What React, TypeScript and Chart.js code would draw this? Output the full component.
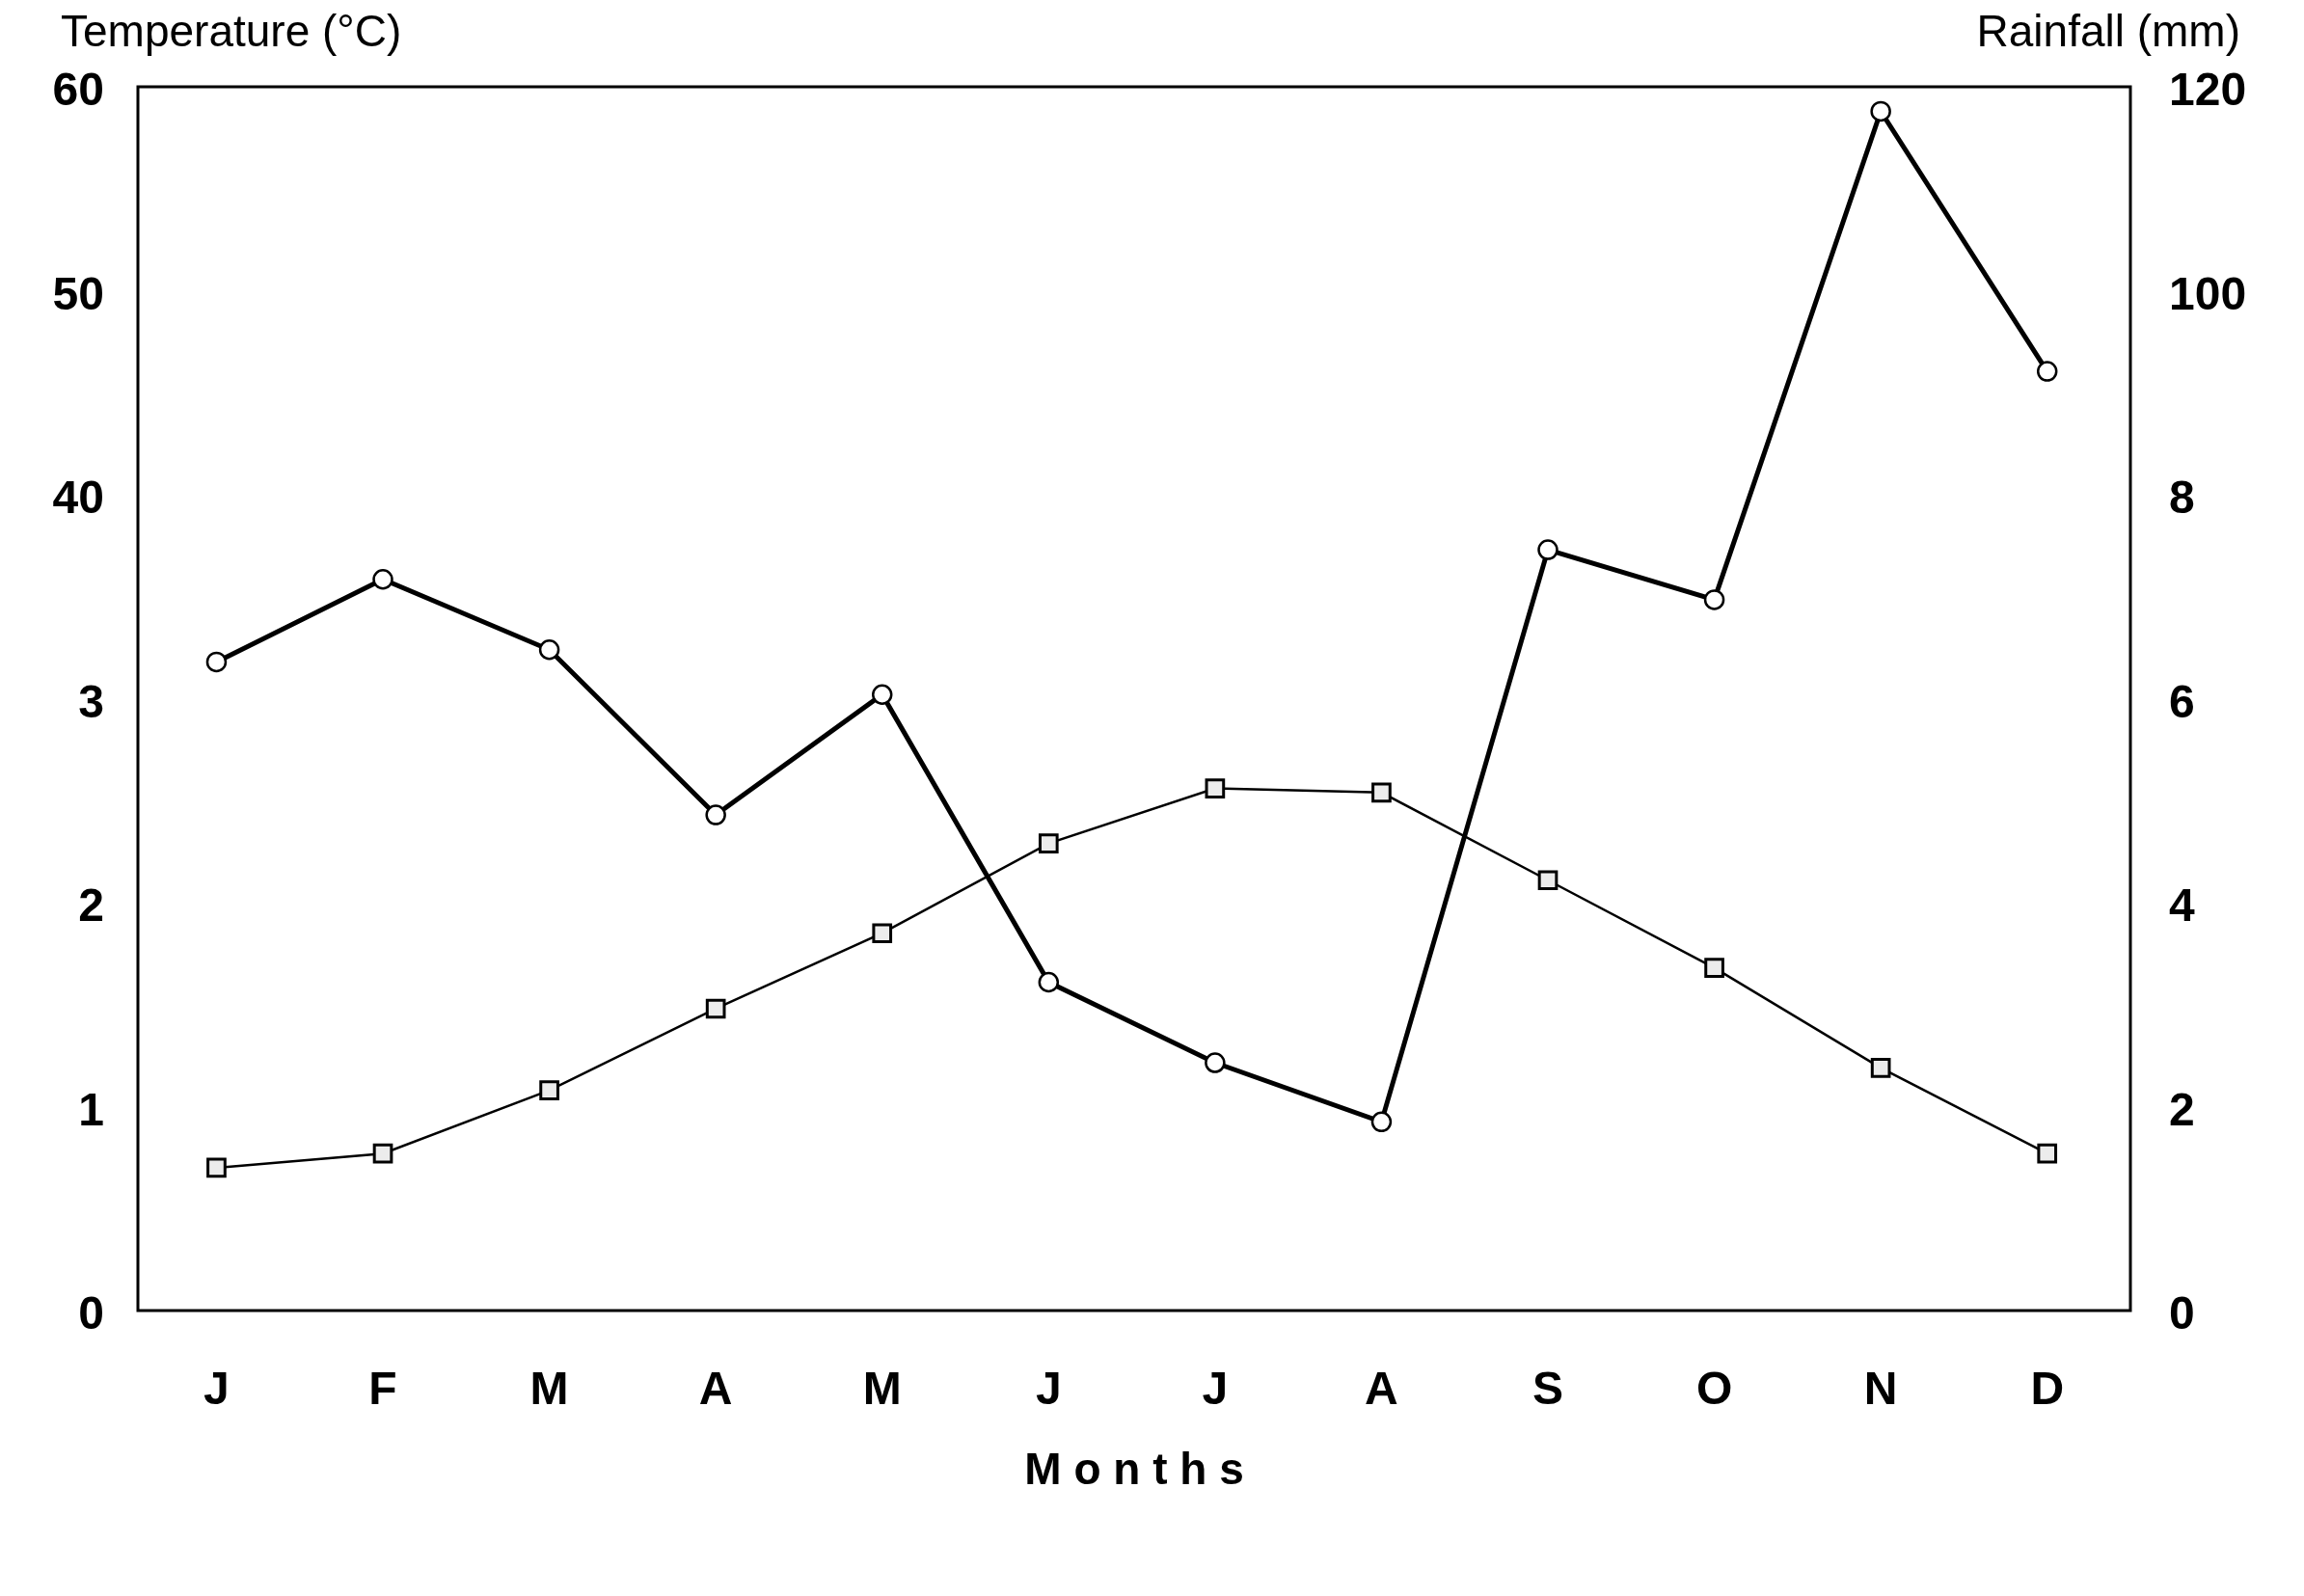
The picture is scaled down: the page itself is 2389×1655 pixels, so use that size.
import React, { useEffect, useRef } from "react";
import { Chart, registerables } from "chart.js";

Chart.register(...registerables);

const months = ["J", "F", "M", "A", "M", "J", "J", "A", "S", "O", "N", "D"];
const rainfall = [63.6, 71.7, 64.8, 48.6, 60.4, 32.2, 24.3, 18.5, 74.6, 69.7, 117.6, 92.1];
const temperature = [7.0, 7.7, 10.8, 14.8, 18.5, 22.9, 25.6, 25.4, 21.1, 16.8, 11.9, 7.7];
const leftTickLabels = ["0", "1", "2", "3", "40", "50", "60"];
const rightTickLabels = ["0", "2", "4", "6", "8", "100", "120"];
const leftTitle = "Temperature (°C)";
const rightTitle = "Rainfall (mm)";
const xTitle = "M o n t h s";

const FONT = "'Liberation Sans', Arial, Helvetica, sans-serif";

const W = 2373;
const H = 1639;

const toPoints = (values: number[]) => values.map((y, x) => ({ x, y }));

const framePlugin = {
  id: "frameAndTitles",
  beforeDatasetsDraw(chart: any) {
    const { ctx, chartArea } = chart;
    ctx.save();
    ctx.strokeStyle = "#000";
    ctx.lineWidth = 3;
    ctx.strokeRect(
      chartArea.left,
      chartArea.top,
      chartArea.right - chartArea.left,
      chartArea.bottom - chartArea.top
    );
    ctx.restore();
  },
  afterDraw(chart: any) {
    const { ctx, chartArea } = chart;
    ctx.save();
    ctx.fillStyle = "#000";
    ctx.font = `46px ${FONT}`;
    ctx.textBaseline = "alphabetic";
    ctx.textAlign = "left";
    ctx.fillText(leftTitle, chartArea.left - 80, 40);
    ctx.textAlign = "right";
    ctx.fillText(rightTitle, chartArea.right + 114, 40);
    ctx.restore();
  },
};

export default function App() {
  const ref = useRef<HTMLCanvasElement | null>(null);

  useEffect(() => {
    if (!ref.current) return;
    const chart = new Chart(ref.current, {
      type: "line",
      data: {
        datasets: [
          {
            label: "Rainfall",
            data: toPoints(rainfall),
            yAxisID: "yR",
            borderColor: "#000",
            borderWidth: 5,
            pointStyle: "circle",
            pointRadius: 9.5,
            pointBorderWidth: 2.5,
            pointBackgroundColor: "#fff",
            pointBorderColor: "#000",
            tension: 0,
            fill: false,
          },
          {
            label: "Temperature",
            data: toPoints(temperature),
            yAxisID: "yL",
            borderColor: "#000",
            borderWidth: 2.5,
            pointStyle: "rect",
            pointRadius: 12.5,
            pointBorderWidth: 3,
            pointBackgroundColor: "#ececec",
            pointBorderColor: "#000",
            tension: 0,
            fill: false,
          },
        ],
      },
      options: {
        responsive: false,
        animation: false,
        layout: { padding: { top: 82, left: 0, right: 0, bottom: 0 } },
        plugins: {
          legend: { display: false },
          tooltip: { enabled: false },
          title: { display: false },
        },
        scales: {
          x: {
            type: "linear",
            min: -0.472,
            max: 11.5,
            grid: { display: false, drawTicks: false, tickLength: 0 },
            border: { display: false },
            afterBuildTicks(scale: any) {
              scale.ticks = months.map((_m, i) => ({ value: i }));
            },
            ticks: {
              color: "#000",
              font: { family: FONT, size: 48, weight: "bold" },
              padding: 55,
              autoSkip: false,
              maxRotation: 0,
              minRotation: 0,
              callback: (v: any) => months[Math.round(Number(v))] ?? "",
            },
            title: {
              display: true,
              text: xTitle,
              color: "#000",
              font: { family: FONT, size: 46, weight: "bold" },
              padding: { top: 0, bottom: 93 },
            },
            afterFit(scale: any) {
              scale.height = 288;
            },
          },
          yL: {
            type: "linear",
            position: "left",
            min: 0,
            max: 60,
            grid: { display: false, drawTicks: false, tickLength: 0 },
            border: { display: false },
            ticks: {
              stepSize: 10,
              color: "#000",
              font: { family: FONT, size: 48, weight: "bold" },
              padding: 35,
              labelOffset: 6,
              callback: (_v: any, i: number) => leftTickLabels[i],
            },
            afterFit(scale: any) {
              scale.width = 135;
            },
          },
          yR: {
            type: "linear",
            position: "right",
            min: 0,
            max: 120,
            grid: { display: false, drawTicks: false, tickLength: 0 },
            border: { display: false },
            ticks: {
              stepSize: 20,
              color: "#000",
              font: { family: FONT, size: 48, weight: "bold" },
              padding: 40,
              labelOffset: 6,
              callback: (_v: any, i: number) => rightTickLabels[i],
            },
            afterFit(scale: any) {
              scale.width = 172;
            },
          },
        },
      },
      plugins: [framePlugin],
    });
    return () => chart.destroy();
  }, []);

  return (
    <div style={{ width: W, height: H }}>
      <canvas ref={ref} width={W} height={H} style={{ display: "block" }} />
    </div>
  );
}
